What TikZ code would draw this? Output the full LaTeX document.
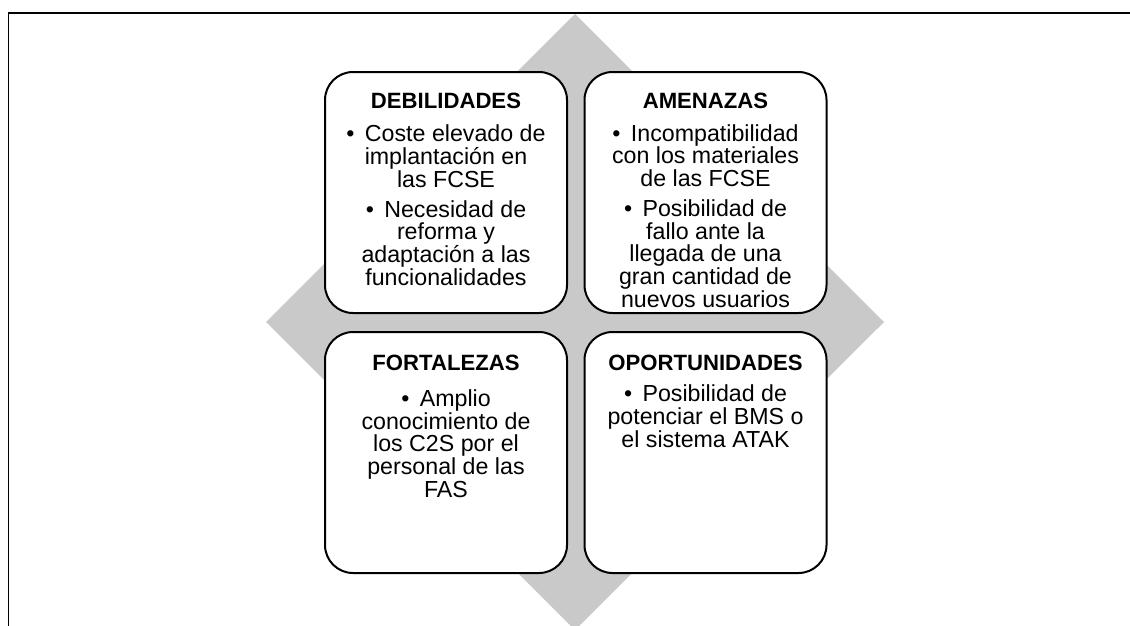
\documentclass[tikz,border=0pt]{standalone}
\usepackage{fontspec}
\setmainfont{Liberation Sans}
\definecolor{diamondgray}{RGB}{201,201,201}
\newcommand{\swotbullet}{•\hspace{0.45em}}
\begin{document}
\begin{tikzpicture}[x=0.75pt,y=-0.75pt,
  swotbox/.style={draw=black, line width=1.5pt, fill=white, rounded corners=21pt,
    minimum width=181.5pt, minimum height=180.75pt, inner sep=0pt, outer sep=0pt},
  swottitle/.style={font=\bfseries\fontsize{16.6}{17}\selectfont, anchor=base, inner sep=0pt},
  swotbody/.style={font=\fontsize{17.4}{17}\selectfont, align=center, anchor=base, inner sep=0pt}]
\useasboundingbox (0,0) rectangle (1130,625);
\begin{scope}
\clip (0,0) rectangle (1130,625);
% frame (only top and left edges visible)
\draw[line width=1.1pt] (8.5,640) -- (8.5,13) -- (1140,13);
% diamond background
\fill[diamondgray] (575,14) -- (884,322) -- (575,630) -- (266,322) -- cycle;
\end{scope}
% boxes
\node[swotbox] (deb) at (446,192.5) {};
\node[swotbox] (ame) at (705.5,192.5) {};
\node[swotbox] (fort) at (446,452.5) {};
\node[swotbox] (opor) at (705.5,452.5) {};
% titles
\node[swottitle] (debT) at (446,108) {DEBILIDADES};
\node[swottitle] (ameT) at (705.5,108) {AMENAZAS};
\node[swottitle] (fortT) at (446,370) {FORTALEZAS};
\node[swottitle] (oporT) at (705.5,370) {OPORTUNIDADES};
% bodies (anchor=base is the baseline of the last line)
\node[swotbody] (debB) at (446,285) {\swotbullet Coste elevado de\\implantación en\\las FCSE\\[5.5pt]\swotbullet Necesidad de\\reforma y\\adaptación a las\\funcionalidades};
\node[swotbody] (ameB) at (705.5,307) {\swotbullet Incompatibilidad\\con los materiales\\de las FCSE\\[5.5pt]\swotbullet Posibilidad de\\fallo ante la\\llegada de una\\gran cantidad de\\nuevos usuarios};
\node[swotbody] (fortB) at (446,497) {\swotbullet Amplio\\conocimiento de\\los C2S por el\\personal de las\\FAS};
\node[swotbody] (oporB) at (705.5,447) {\swotbullet Posibilidad de\\potenciar el BMS o\\el sistema ATAK};
\end{tikzpicture}
\end{document}
